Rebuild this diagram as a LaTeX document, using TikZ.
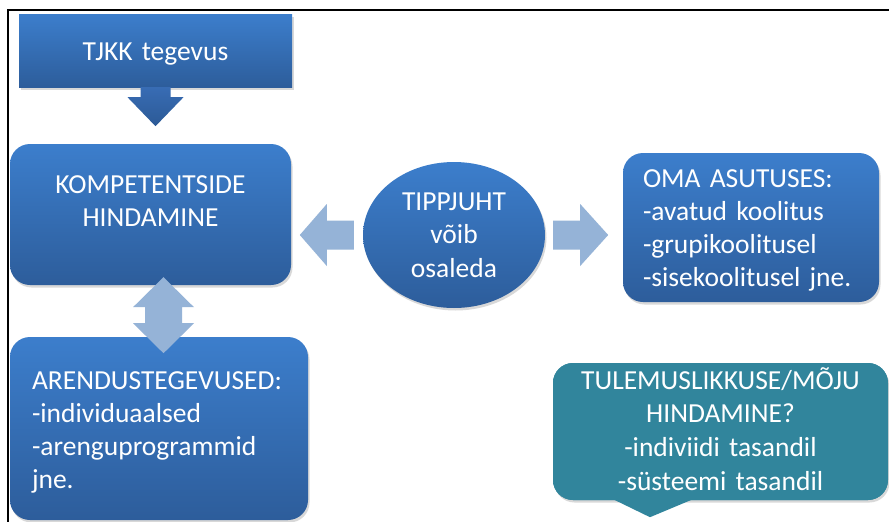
\documentclass[tikz,border=0pt]{standalone}
\usepackage{fontspec}
\setmainfont{Carlito}
\usetikzlibrary{shapes.geometric,shadows}

\definecolor{boxtop}{RGB}{60,126,204}
\definecolor{boxbot}{RGB}{45,93,155}
\definecolor{arrtop}{RGB}{56,108,180}
\definecolor{arrbot}{RGB}{44,90,150}
\definecolor{arrlight}{RGB}{149,179,215}
\definecolor{calloutteal}{RGB}{49,133,156}

\tikzset{
  bluebox/.style={top color=boxtop, bottom color=boxbot, text=white,
    inner sep=0pt, font=\fontsize{27.5}{33.3}\selectfont,
    drop shadow={shadow xshift=1.5pt, shadow yshift=-2.5pt, opacity=0.3}},
  roundbox/.style={bluebox, rounded corners=20pt},
  lightarr/.style={fill=arrlight},
}

\begin{document}
\begin{tikzpicture}[x=1pt, y=-1pt]
\useasboundingbox (0,0) rectangle (889,522);
\fill[white] (0,0) rectangle (889,522);
\draw[line width=1.2pt] (8,522)--(8,10)--(889,10);

\node[bluebox, text width=273pt, text height=46pt, text depth=27pt, align=center] (tjkk) at (155.5,50.5) {TJKK tegevus};
\node[roundbox, text width=281pt, text height=49pt, text depth=92pt, align=center] (komp) at (150.5,214.5) {KOMPETENTSIDE\\HINDAMINE};
\node[bluebox, ellipse, minimum width=182pt, minimum height=146pt, align=center] (tipp) at (454,235) {TIPPJUHT\\võib\\osaleda};
\node[roundbox, inner xsep=20pt, text width=216pt, text height=34pt, text depth=115pt, align=left] (oma) at (751,227.5) {OMA ASUTUSES:\\-avatud koolitus\\-grupikoolitusel\\-sisekoolitusel jne.};
\node[roundbox, inner xsep=22pt, text width=254pt, text height=52pt, text depth=131pt, align=left] (aren) at (159,428.5) {ARENDUSTEGEVUSED:\\-individuaalsed\\-arenguprogrammid\\jne.};
\node[roundbox, fill=calloutteal, top color=calloutteal, bottom color=calloutteal, font=\fontsize{27.5}{33.7}\selectfont, text width=335pt, text height=26pt, text depth=111pt, align=center] (tule) at (720.5,431.5) {TULEMUSLIKKUSE/MÕJU\\HINDAMINE?\\-indiviidi tasandil\\-süsteemi tasandil};
\fill[calloutteal, shift={(tule.south)}] (-107.5,-1)--(-27.5,-1)--(-70.5,17)--cycle;

\shade[top color=arrtop, bottom color=arrbot, shift={(tjkk.south)}] (-15,0)--(15,0)--(15,10)--(28,10)--(0,39)--(-28,10)--(-15,10)--cycle;
\fill[lightarr, shift={(tipp.west)}] (-9,-14.5)--(-36,-14.5)--(-36,-31)--(-63,0)--(-36,31)--(-36,14.5)--(-9,14.5)--cycle;
\fill[lightarr, shift={(tipp.east)}] (8,-14.5)--(35,-14.5)--(35,-31)--(63,0)--(35,31)--(35,14.5)--(8,14.5)--cycle;
\fill[lightarr, shift={(komp.south)}] (13,-8)--(43.5,22)--(31.5,22)--(31.5,38)--(43.5,38)--(13,68)--(-17.5,38)--(-5.5,38)--(-5.5,22)--(-17.5,22)--cycle;
\end{tikzpicture}
\end{document}
